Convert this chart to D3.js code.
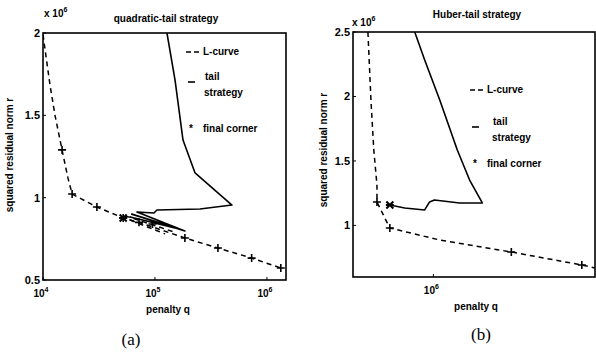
<!DOCTYPE html>
<html><head><meta charset="utf-8">
<script src="https://cdn.jsdelivr.net/npm/d3@7"></script>
<style>body{margin:0;background:#fff}svg{display:block}</style></head>
<body>
<svg id="c" width="596" height="353"></svg>
<script>
// ---------- DATA (penalty q, squared residual norm r [x 1e6]) ----------
const lcurveA = [[1.0e4,1.99],[1.06e4,1.866],[1.155e4,1.684],[1.28e4,1.50],[1.48e4,1.29],[1.67e4,1.12],[1.82e4,1.022],[3.03e4,0.943],[5.2e4,0.877],[9.0e4,0.828],[1.85e5,0.755],[3.65e5,0.694],[7.3e5,0.633],[1.33e6,0.573]];
const lcurveA2 = [[5.4e4,0.89],[1.51e5,0.79]];
const lcurveA3 = [[6.0e4,0.864],[1.23e5,0.78]];
const markersA = [[1.48e4,1.29],[1.82e4,1.022],[3.03e4,0.943],[5.2e4,0.877],[1.85e5,0.755],[3.65e5,0.694],[7.3e5,0.633],[1.33e6,0.573],[7.2e4,0.85],[9.5e4,0.84]];
const tailA = [[1.28e5,2.0],[1.51e5,1.715],[1.78e5,1.35],[2.28e5,1.15],[4.87e5,0.955],[2.52e5,0.931],[1.04e5,0.925],[9.8e4,0.907],[6.9e4,0.913],[1.85e5,0.798],[6.2e4,0.90],[1.67e5,0.81],[6.0e4,0.883],[1.51e5,0.816]];
const cornerA = [5.2e4,0.877];

const lcurveB = [[2.86e5,2.5],[3.03e5,1.973],[3.2e5,1.585],[3.4e5,1.313],[3.4e5,1.182],[4.1e5,1.027],[4.35e5,0.98],[1.13e6,0.887],[4.44e6,0.794],[1.71e7,0.693],[2.2e7,0.67]];
const markersB = [[3.4e5,1.182],[4.35e5,0.98],[4.44e6,0.794],[1.71e7,0.693]];
const tailB = [[7.0e5,2.5],[8.47e5,2.283],[1.13e6,1.973],[1.58e6,1.585],[2.0e6,1.352],[2.55e6,1.174],[1.65e6,1.174],[1.02e6,1.197],[9.3e5,1.182],[8.47e5,1.12],[5.78e5,1.135],[4.35e5,1.158]];
const cornerB = [4.35e5,1.158];

const yTicksA = [0.5,1,1.5,2], yTickLabelsA = ["0.5","1","1.5","2"];
const xTicksA = [1e4,1e5,1e6], xExpA = ["4","5","6"];
const yTicksB = [1,1.5,2,2.5], yTickLabelsB = ["1","1.5","2","2.5"];
const xTicksB = [1e6], xExpB = ["6"];
const titles = ["quadratic-tail strategy","Huber-tail strategy"];
const legendLabels = ["L-curve","tail","strategy","final corner"];

// ---------- DRAW ----------
const svg = d3.select("#c");
const FONT = "'Liberation Sans', Arial, sans-serif";

function panel(cfg){
  const g = svg.append("g");
  const x = d3.scaleLog().domain(cfg.xd).range([cfg.l, cfg.r]);
  const y = d3.scaleLinear().domain(cfg.yd).range([cfg.b, cfg.t]);
  const clipId = "clip"+cfg.id;
  svg.append("clipPath").attr("id",clipId).append("rect")
    .attr("x",cfg.l).attr("y",cfg.t).attr("width",cfg.r-cfg.l).attr("height",cfg.b-cfg.t);
  const line = d3.line().x(d=>x(d[0])).y(d=>y(d[1]));
  const plot = g.append("g").attr("clip-path",`url(#${clipId})`);
  cfg.dashed.forEach(arr=>{
    plot.append("path").attr("d",line(arr)).attr("fill","none").attr("stroke","#000")
      .attr("stroke-width",1.5).attr("stroke-dasharray","5,4");
  });
  plot.append("path").attr("d",line(cfg.tail)).attr("fill","none").attr("stroke","#000")
    .attr("stroke-width",1.6).attr("stroke-linejoin","round");
  cfg.markers.forEach(m=>{
    const px=x(m[0]), py=y(m[1]);
    plot.append("path").attr("d",`M${px-4},${py}H${px+4}M${px},${py-4}V${py+4}`)
      .attr("stroke","#000").attr("stroke-width",1.6);
  });
  {
    const px=x(cfg.corner[0]), py=y(cfg.corner[1]);
    plot.append("path").attr("d",`M${px-3.5},${py-3.5}L${px+3.5},${py+3.5}M${px+3.5},${py-3.5}L${px-3.5},${py+3.5}M${px-4},${py}H${px+4}`)
      .attr("stroke","#000").attr("stroke-width",2);
  }
  // frame
  g.append("rect").attr("x",cfg.l).attr("y",cfg.t).attr("width",cfg.r-cfg.l).attr("height",cfg.b-cfg.t)
    .attr("fill","none").attr("stroke","#000").attr("stroke-width",1.6);
  // ticks
  cfg.yt.forEach((v,i)=>{
    g.append("line").attr("x1",cfg.l).attr("x2",cfg.l+3).attr("y1",y(v)).attr("y2",y(v)).attr("stroke","#000");
    g.append("text").attr("x",cfg.l-3).attr("y",y(v)+4).attr("text-anchor","end")
      .attr("font-family",FONT).attr("font-size",11).attr("font-weight","bold").text(cfg.ytl[i]);
  });
  cfg.xt.forEach((v,i)=>{
    g.append("line").attr("x1",x(v)).attr("x2",x(v)).attr("y1",cfg.b).attr("y2",cfg.b-3).attr("stroke","#000");
    const t = g.append("text").attr("x",x(v)-2).attr("y",cfg.b+17).attr("text-anchor","middle")
      .attr("font-family",FONT).attr("font-size",10).attr("font-weight","bold");
    t.append("tspan").text("10");
    t.append("tspan").attr("dy",-5).attr("font-size",7).text(cfg.xe[i]);
  });
  // multiplier
  const mt = g.append("text").attr("x",cfg.mx).attr("y",cfg.my).attr("font-family",FONT).attr("font-size",10).attr("font-weight","bold");
  mt.append("tspan").text("x 10");
  mt.append("tspan").attr("dy",-5).attr("font-size",7).text("6");
  // title
  g.append("text").attr("x",cfg.tx).attr("y",cfg.ty).attr("text-anchor","middle")
    .attr("font-family",FONT).attr("font-size",10).attr("font-weight","bold").text(cfg.title);
  // axis labels
  g.append("text").attr("x",cfg.xlx).attr("y",cfg.xly).attr("text-anchor","middle")
    .attr("font-family",FONT).attr("font-size",10).attr("font-weight","bold").text("penalty q");
  g.append("text").attr("transform",`translate(${cfg.ylx},${cfg.yly}) rotate(-90)`).attr("text-anchor","middle")
    .attr("font-family",FONT).attr("font-size",10).attr("font-weight","bold").text("squared residual norm r");
  g.append("text").attr("x",cfg.px).attr("y",cfg.py).attr("text-anchor","middle")
    .attr("font-family","'Liberation Serif', 'Times New Roman', serif").attr("font-size",17).text(cfg.plabel);
  // legend
  const L = cfg.leg;
  g.append("line").attr("x1",L.x).attr("x2",L.x+13).attr("y1",L.y1).attr("y2",L.y1)
    .attr("stroke","#000").attr("stroke-width",1.5).attr("stroke-dasharray","5,3");
  g.append("text").attr("x",L.tx).attr("y",L.y1+3).attr("font-family",FONT).attr("font-size",10).attr("font-weight","bold").text(legendLabels[0]);
  g.append("line").attr("x1",L.x+2).attr("x2",L.x+9).attr("y1",L.y2).attr("y2",L.y2)
    .attr("stroke","#000").attr("stroke-width",1.6);
  g.append("text").attr("x",L.tx2).attr("y",L.y2-2).attr("font-family",FONT).attr("font-size",10).attr("font-weight","bold").text(legendLabels[1]);
  g.append("text").attr("x",L.tx2-1).attr("y",L.y2+14).attr("font-family",FONT).attr("font-size",10).attr("font-weight","bold").text(legendLabels[2]);
  g.append("text").attr("x",L.x+5).attr("y",L.y3+4).attr("text-anchor","middle").attr("font-family",FONT).attr("font-size",10).attr("font-weight","bold").text("*");
  g.append("text").attr("x",L.tx).attr("y",L.y3+4).attr("font-family",FONT).attr("font-size",10).attr("font-weight","bold").text(legendLabels[3]);
}

panel({id:"a", l:43, r:286, t:33, b:280, xd:[1e4,1.48e6], yd:[0.5,2],
  dashed:[lcurveA,lcurveA2,lcurveA3], tail:tailA, markers:markersA, corner:cornerA,
  yt:yTicksA, ytl:yTickLabelsA, xt:xTicksA, xe:xExpA,
  mx:44, my:17, title:titles[0], tx:166, ty:22,
  xlx:168, xly:313, ylx:13, yly:155, px:131, py:345, plabel:"(a)",
  leg:{x:186, y1:52, tx:203, y2:82, tx2:205, y3:128}});

panel({id:"b", l:353, r:595, t:32, b:277, xd:[2.15e5,2.2e7], yd:[0.6,2.5],
  yt:yTicksB, ytl:yTickLabelsB, xt:xTicksB, xe:xExpB,
  dashed:[lcurveB], tail:tailB, markers:markersB, corner:cornerB,
  mx:352, my:26, title:titles[1], tx:477, ty:18,
  xlx:476, xly:310, ylx:327, yly:150, px:481, py:340, plabel:"(b)",
  leg:{x:470, y1:90, tx:487, y2:127, tx2:493, y3:163}});
</script>
</body></html>
